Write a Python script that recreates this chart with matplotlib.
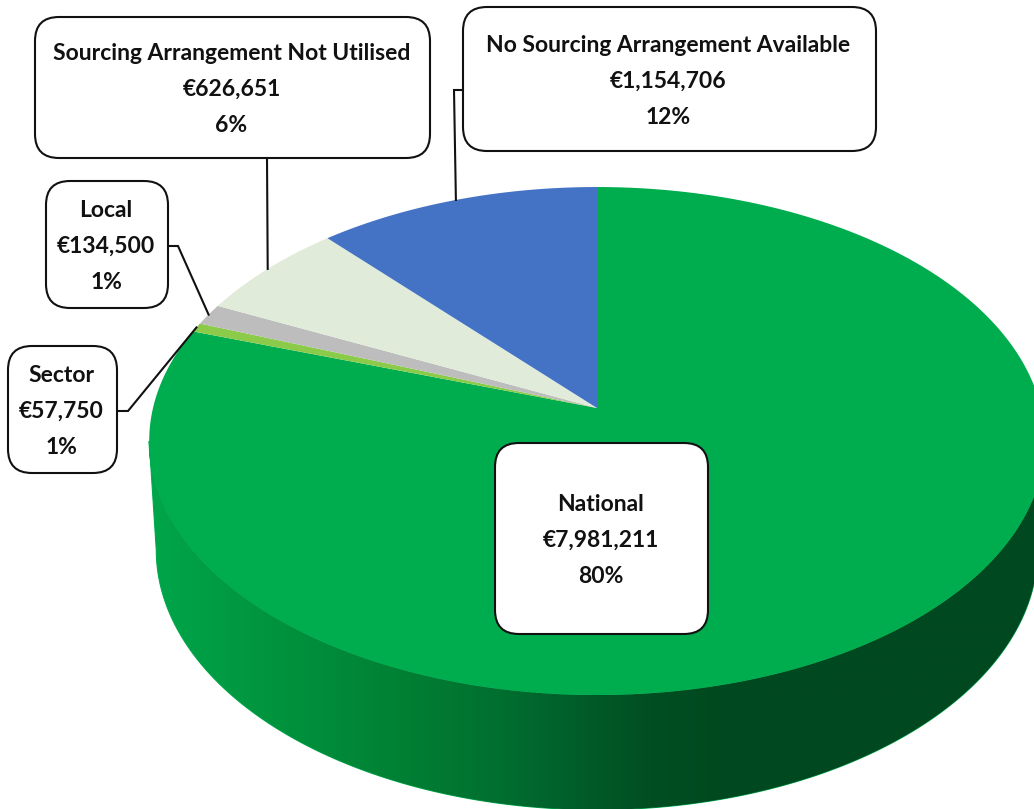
import numpy as np
import matplotlib
matplotlib.use('Agg')
import matplotlib.pyplot as plt
from matplotlib.colors import LinearSegmentedColormap
from matplotlib.patches import FancyBboxPatch, Polygon

# slices, clockwise from 12 o'clock
names = ['National', 'Sector', 'Local', 'Sourcing Arrangement Not Utilised', 'No Sourcing Arrangement Available']
values = [7981211, 57750, 134500, 626651, 1154706]
percents = ['80%', '1%', '1%', '6%', '12%']
colors = ['#00AD4E', '#8CCB4A', '#BDBDBD', '#E0ECD9', '#4472C4']

plt.rcParams['font.family'] = ['Lato', 'DejaVu Sans']

# perspective of the pie, in pixels
cx, cy = 597, 408
rx, ry = 444, 249.7
k = 0.13
lower_cy, lower_rx, lower_ry = 516, 437, 255.6


def project(deg, x0=cx, y0=cy, a=rx, b=ry):
    t = np.radians(deg)
    w = 1 + k * np.cos(t)
    return x0 + a * np.sin(t) / w, y0 - b * np.cos(t) / w


fig = plt.figure(figsize=(10.34, 8.09), dpi=100)
ax = fig.add_axes([0, 0, 1, 1])

# side of the pie
left = np.degrees(np.arccos(-k))
rim = np.linspace(left, 360 - left, 300)
x1, y1 = project(rim)
x2, y2 = project(rim[::-1], cx, lower_cy, lower_rx, lower_ry)
side = Polygon(np.column_stack([np.r_[x1, x2], np.r_[y1, y2]]), closed=True, fc='none', ec='#00B050', lw=0.8, zorder=1)
ax.add_patch(side)
cmap = LinearSegmentedColormap.from_list('side', [
    (0.0, '#00A64A'), (0.12, '#00963F'), (0.28, '#008034'), (0.39, '#006F30'),
    (0.47, '#005F2A'), (0.56, '#004E22'), (0.66, '#004820'), (1.0, '#004820')])
img = ax.imshow(np.linspace(0, 1, 512).reshape(1, -1), cmap=cmap, extent=[149, 1045, 820, 400], aspect='auto', zorder=2)
img.set_clip_path(side)

# top of the pie
angles = np.cumsum([0] + values) / sum(values) * 360
for i in range(len(values)):
    t = np.linspace(angles[i], angles[i + 1], 300)
    x, y = project(t)
    pts = np.column_stack([np.r_[cx, x], np.r_[cy, y]])
    ax.add_patch(Polygon(pts, closed=True, fc=colors[i], ec='none', zorder=3))

# callouts: left, top, right, bottom of the box, and the elbow of the leader
boxes = {
    'National': (495, 443, 708, 634, None),
    'Sector': (8, 346, 117, 473, (117, 411, 128, 411)),
    'Local': (46, 181, 168, 308, (168, 246, 178, 246)),
    'Sourcing Arrangement Not Utilised': (35, 17, 430, 158, (267, 158, 267, 158)),
    'No Sourcing Arrangement Available': (463, 7, 876, 151, (463, 90, 454, 90)),
}
mid = (angles[:-1] + angles[1:]) / 2
for i, name in enumerate(names):
    l, t, r, b, elbow = boxes[name]
    if elbow:
        tip = project(mid[i])
        ax.plot([elbow[0], elbow[2], tip[0]], [elbow[1], elbow[3], tip[1]], color='#111111', lw=1.5, zorder=4,
                solid_joinstyle='miter')
    ax.add_patch(FancyBboxPatch((l, t), r - l, b - t, boxstyle='round,pad=0,rounding_size=24',
                                fc='white', ec='#111111', lw=1.5, zorder=5))
    lines = [name, '€{:,}'.format(values[i]), percents[i]]
    for j, line in enumerate(lines):
        ax.text((l + r) / 2 - 1, (t + b) / 2 + (j - 1) * 36, line, ha='center', va='center_baseline', fontsize=16.5,
                fontweight='bold', color='#111111', zorder=6)

ax.set_xlim(0, 1034)
ax.set_ylim(809, 0)
ax.axis('off')
fig.savefig('out.png', dpi=100, facecolor='white')
